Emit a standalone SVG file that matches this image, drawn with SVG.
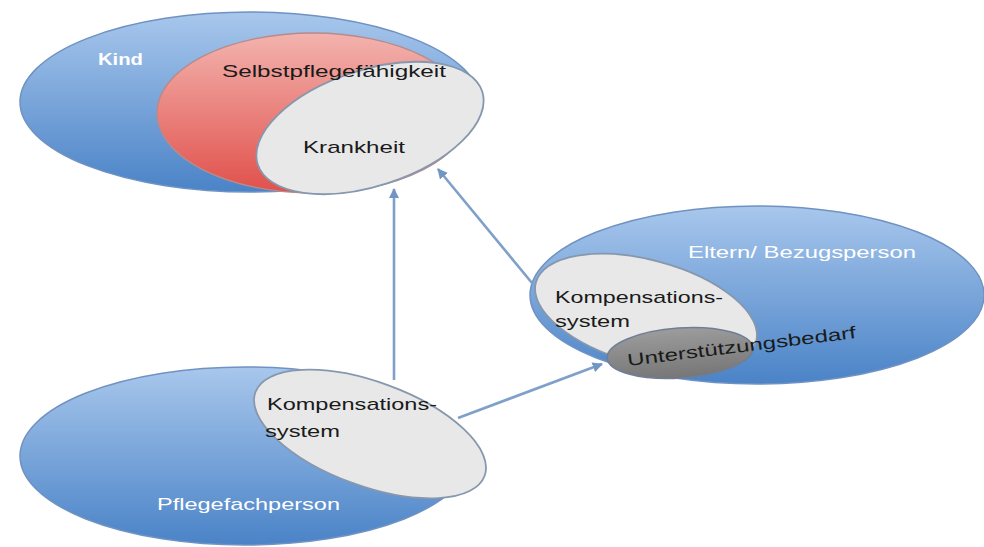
<svg xmlns="http://www.w3.org/2000/svg" width="984" height="547" viewBox="0 0 984 547">
  <defs>
    <linearGradient id="gBlue" x1="0" y1="0" x2="0" y2="1">
      <stop offset="0" stop-color="#a8c7ec"/>
      <stop offset="1" stop-color="#4a83c7"/>
    </linearGradient>
    <linearGradient id="gRed" x1="0" y1="0" x2="0" y2="1">
      <stop offset="0" stop-color="#f3b3ae"/>
      <stop offset="1" stop-color="#e1504b"/>
    </linearGradient>
    <linearGradient id="gDark" x1="0" y1="0" x2="0" y2="1">
      <stop offset="0" stop-color="#9c9c9c"/>
      <stop offset="1" stop-color="#767676"/>
    </linearGradient>
    <marker id="arr" viewBox="0 0 10 10" refX="9" refY="5" markerWidth="4" markerHeight="4" orient="auto" markerUnits="strokeWidth">
      <path d="M0,0 L10,5 L0,10 z" fill="#7196c4"/>
    </marker>
  </defs>
  <style>
    .blue { fill: url(#gBlue); stroke: #6f92c2; stroke-width: 1.5; }
    .red { fill: url(#gRed); stroke: #b98a8a; stroke-width: 1.5; }
    .grey { fill: #e8e8e8; stroke: #8797ad; stroke-width: 1.8; }
    .dark { fill: url(#gDark); stroke: #6f7e95; stroke-width: 1.5; }
    .conn { stroke: #7fa0c9; stroke-width: 2.6; fill: none; marker-end: url(#arr); }
    text { font-family: "Liberation Sans", Arial, sans-serif; font-size: 17px; }
    .w { fill: #ffffff; }
    .k { fill: #1a1a1a; }
    .b { font-weight: bold; }
  </style>

  <g id="kind">
    <ellipse class="blue" cx="250" cy="102" rx="230" ry="90"/>
    <text class="w b" x="98" y="65" textLength="45" lengthAdjust="spacingAndGlyphs">Kind</text>
  </g>
  <g id="selbstpflege">
    <ellipse class="red" cx="313" cy="113" rx="156" ry="80"/>
  </g>
  <g id="krankheit">
    <ellipse class="grey" cx="370" cy="128" rx="118" ry="58" transform="rotate(-18 370 128)"/>
    <text class="k" x="303" y="153" textLength="102" lengthAdjust="spacingAndGlyphs">Krankheit</text>
  </g>
  <g id="selbstpflege-label">
    <text class="k" x="222" y="77" textLength="224" lengthAdjust="spacingAndGlyphs">Selbstpflegefähigkeit</text>
  </g>

  <g id="eltern">
    <ellipse class="blue" cx="757" cy="295" rx="227" ry="89"/>
    <text class="w" x="688" y="258" textLength="228" lengthAdjust="spacingAndGlyphs">Eltern/ Bezugsperson</text>
  </g>
  <g id="kompensation-eltern">
    <ellipse class="grey" cx="646" cy="312" rx="114" ry="52" transform="rotate(15 646 312)"/>
    <text class="k" x="555" y="303" textLength="168" lengthAdjust="spacingAndGlyphs">Kompensations-</text>
    <text class="k" x="555" y="327" textLength="75" lengthAdjust="spacingAndGlyphs">system</text>
  </g>
  <g id="unterstuetzung">
    <ellipse class="dark" cx="680" cy="353" rx="73" ry="25" transform="rotate(-4 680 353)"/>
    <text class="k" x="628" y="366" textLength="230" lengthAdjust="spacingAndGlyphs" transform="rotate(-7 628 366)">Unterstützungsbedarf</text>
  </g>

  <g id="pflegefachperson">
    <ellipse class="blue" cx="245" cy="456" rx="225" ry="89"/>
    <text class="w" x="157" y="510" textLength="183" lengthAdjust="spacingAndGlyphs">Pflegefachperson</text>
  </g>
  <g id="kompensation-pflege">
    <ellipse class="grey" cx="370" cy="434" rx="122" ry="52" transform="rotate(20 370 434)"/>
    <text class="k" x="267" y="410" textLength="170" lengthAdjust="spacingAndGlyphs">Kompensations-</text>
    <text class="k" x="265" y="437" textLength="75" lengthAdjust="spacingAndGlyphs">system</text>
  </g>

  <g id="connectors">
    <line class="conn" x1="394" y1="380" x2="394" y2="189"/>
    <line class="conn" x1="532" y1="283" x2="438" y2="169"/>
    <line class="conn" x1="458" y1="418" x2="602" y2="364"/>
  </g>
</svg>
